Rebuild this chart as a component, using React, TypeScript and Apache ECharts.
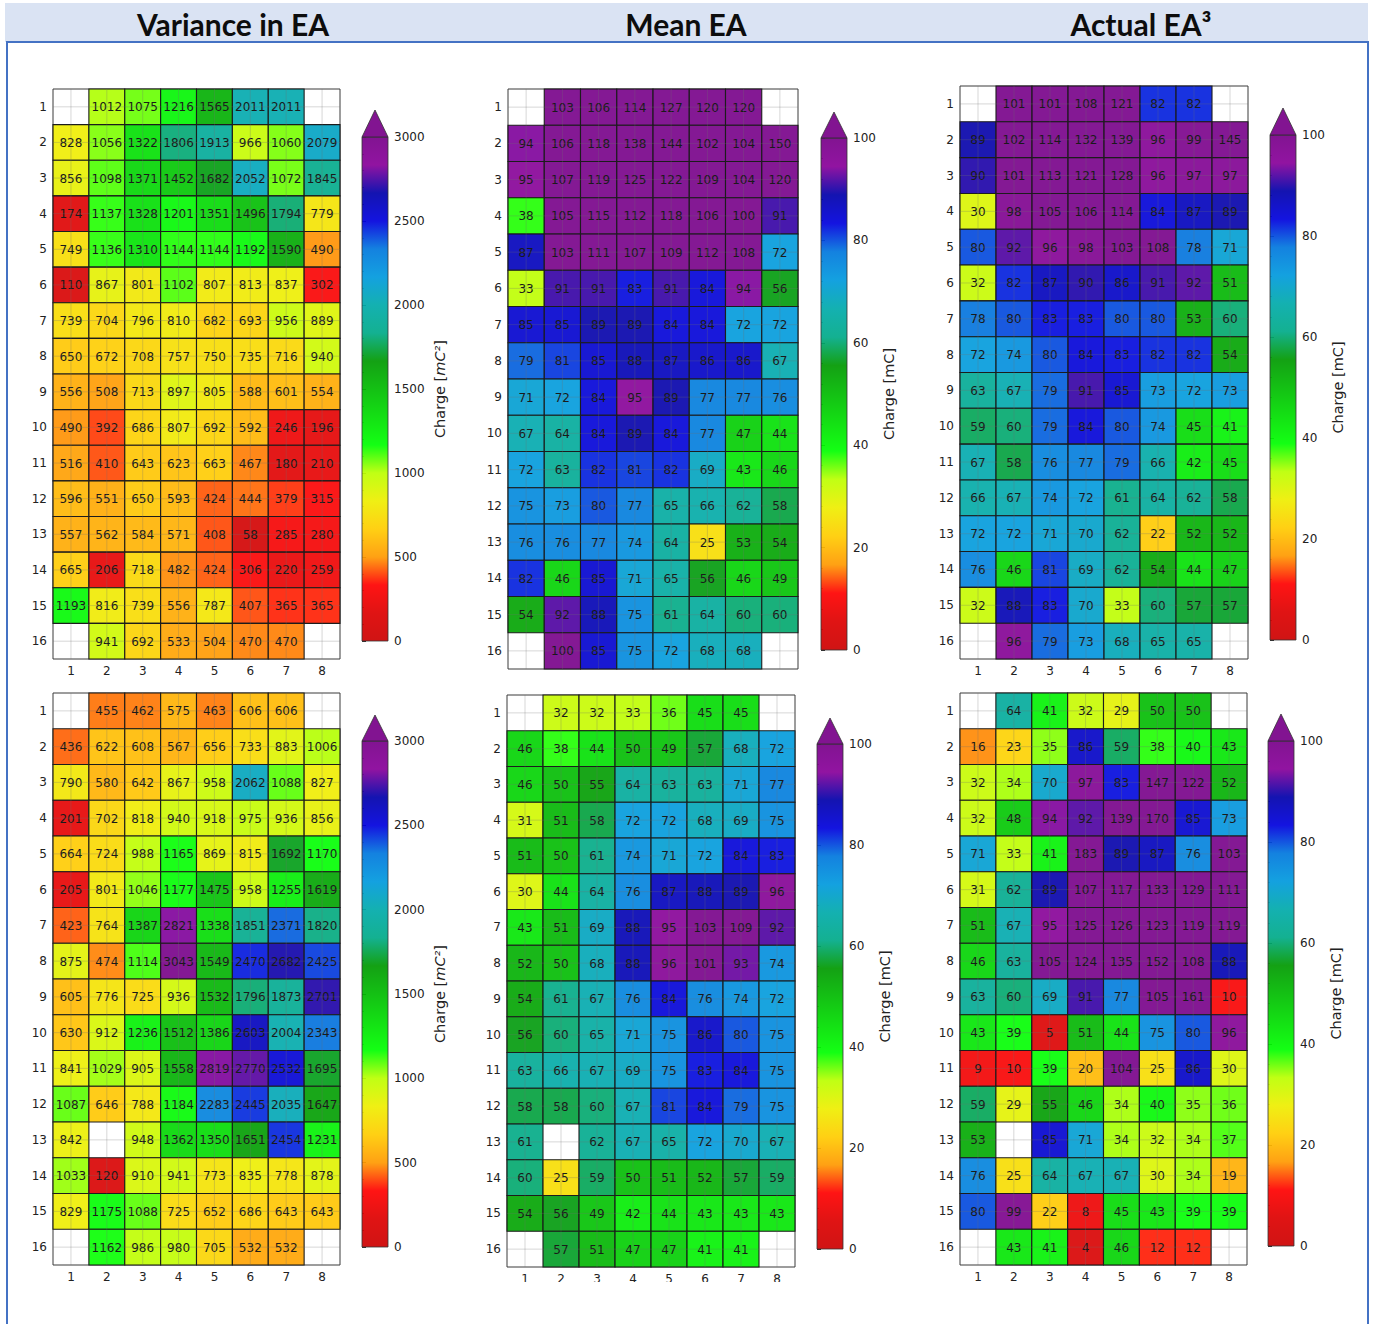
import React, { useEffect, useRef } from 'react';
import * as echarts from 'echarts';

const rowLabels = ['1','2','3','4','5','6','7','8','9','10','11','12','13','14','15','16'];
const colLabels = ['1','2','3','4','5','6','7','8'];

type Grid = (number | null)[][];

const varianceTop: Grid = [
  [null, 1012, 1075, 1216, 1565, 2011, 2011, null],
  [828, 1056, 1322, 1806, 1913, 966, 1060, 2079],
  [856, 1098, 1371, 1452, 1682, 2052, 1072, 1845],
  [174, 1137, 1328, 1201, 1351, 1496, 1794, 779],
  [749, 1136, 1310, 1144, 1144, 1192, 1590, 490],
  [110, 867, 801, 1102, 807, 813, 837, 302],
  [739, 704, 796, 810, 682, 693, 956, 889],
  [650, 672, 708, 757, 750, 735, 716, 940],
  [556, 508, 713, 897, 805, 588, 601, 554],
  [490, 392, 686, 807, 692, 592, 246, 196],
  [516, 410, 643, 623, 663, 467, 180, 210],
  [596, 551, 650, 593, 424, 444, 379, 315],
  [557, 562, 584, 571, 408, 58, 285, 280],
  [665, 206, 718, 482, 424, 306, 220, 259],
  [1193, 816, 739, 556, 787, 407, 365, 365],
  [null, 941, 692, 533, 504, 470, 470, null],
];

const meanTop: Grid = [
  [null, 103, 106, 114, 127, 120, 120, null],
  [94, 106, 118, 138, 144, 102, 104, 150],
  [95, 107, 119, 125, 122, 109, 104, 120],
  [38, 105, 115, 112, 118, 106, 100, 91],
  [87, 103, 111, 107, 109, 112, 108, 72],
  [33, 91, 91, 83, 91, 84, 94, 56],
  [85, 85, 89, 89, 84, 84, 72, 72],
  [79, 81, 85, 88, 87, 86, 86, 67],
  [71, 72, 84, 95, 89, 77, 77, 76],
  [67, 64, 84, 89, 84, 77, 47, 44],
  [72, 63, 82, 81, 82, 69, 43, 46],
  [75, 73, 80, 77, 65, 66, 62, 58],
  [76, 76, 77, 74, 64, 25, 53, 54],
  [82, 46, 85, 71, 65, 56, 46, 49],
  [54, 92, 88, 75, 61, 64, 60, 60],
  [null, 100, 85, 75, 72, 68, 68, null],
];

const actualTop: Grid = [
  [null, 101, 101, 108, 121, 82, 82, null],
  [89, 102, 114, 132, 139, 96, 99, 145],
  [90, 101, 113, 121, 128, 96, 97, 97],
  [30, 98, 105, 106, 114, 84, 87, 89],
  [80, 92, 96, 98, 103, 108, 78, 71],
  [32, 82, 87, 90, 86, 91, 92, 51],
  [78, 80, 83, 83, 80, 80, 53, 60],
  [72, 74, 80, 84, 83, 82, 82, 54],
  [63, 67, 79, 91, 85, 73, 72, 73],
  [59, 60, 79, 84, 80, 74, 45, 41],
  [67, 58, 76, 77, 79, 66, 42, 45],
  [66, 67, 74, 72, 61, 64, 62, 58],
  [72, 72, 71, 70, 62, 22, 52, 52],
  [76, 46, 81, 69, 62, 54, 44, 47],
  [32, 88, 83, 70, 33, 60, 57, 57],
  [null, 96, 79, 73, 68, 65, 65, null],
];

const varianceBottom: Grid = [
  [null, 455, 462, 575, 463, 606, 606, null],
  [436, 622, 608, 567, 656, 733, 883, 1006],
  [790, 580, 642, 867, 958, 2062, 1088, 827],
  [201, 702, 818, 940, 918, 975, 936, 856],
  [664, 724, 988, 1165, 869, 815, 1692, 1170],
  [205, 801, 1046, 1177, 1475, 958, 1255, 1619],
  [423, 764, 1387, 2821, 1338, 1851, 2371, 1820],
  [875, 474, 1114, 3043, 1549, 2470, 2682, 2425],
  [605, 776, 725, 936, 1532, 1796, 1873, 2701],
  [630, 912, 1236, 1512, 1386, 2603, 2004, 2343],
  [841, 1029, 905, 1558, 2819, 2770, 2532, 1695],
  [1087, 646, 788, 1184, 2283, 2445, 2035, 1647],
  [842, null, 948, 1362, 1350, 1651, 2454, 1231],
  [1033, 120, 910, 941, 773, 835, 778, 878],
  [829, 1175, 1088, 725, 652, 686, 643, 643],
  [null, 1162, 986, 980, 705, 532, 532, null],
];

const meanBottom: Grid = [
  [null, 32, 32, 33, 36, 45, 45, null],
  [46, 38, 44, 50, 49, 57, 68, 72],
  [46, 50, 55, 64, 63, 63, 71, 77],
  [31, 51, 58, 72, 72, 68, 69, 75],
  [51, 50, 61, 74, 71, 72, 84, 83],
  [30, 44, 64, 76, 87, 88, 89, 96],
  [43, 51, 69, 88, 95, 103, 109, 92],
  [52, 50, 68, 88, 96, 101, 93, 74],
  [54, 61, 67, 76, 84, 76, 74, 72],
  [56, 60, 65, 71, 75, 86, 80, 75],
  [63, 66, 67, 69, 75, 83, 84, 75],
  [58, 58, 60, 67, 81, 84, 79, 75],
  [61, null, 62, 67, 65, 72, 70, 67],
  [60, 25, 59, 50, 51, 52, 57, 59],
  [54, 56, 49, 42, 44, 43, 43, 43],
  [null, 57, 51, 47, 47, 41, 41, null],
];

const actualBottom: Grid = [
  [null, 64, 41, 32, 29, 50, 50, null],
  [16, 23, 35, 86, 59, 38, 40, 43],
  [32, 34, 70, 97, 83, 147, 122, 52],
  [32, 48, 94, 92, 139, 170, 85, 73],
  [71, 33, 41, 183, 89, 87, 76, 103],
  [31, 62, 89, 107, 117, 133, 129, 111],
  [51, 67, 95, 125, 126, 123, 119, 119],
  [46, 63, 105, 124, 135, 152, 108, 88],
  [63, 60, 69, 91, 77, 105, 161, 10],
  [43, 39, 5, 51, 44, 75, 80, 96],
  [9, 10, 39, 20, 104, 25, 86, 30],
  [59, 29, 55, 46, 34, 40, 35, 36],
  [53, null, 85, 71, 34, 32, 34, 37],
  [76, 25, 64, 67, 67, 30, 34, 19],
  [80, 99, 22, 8, 45, 43, 39, 39],
  [null, 43, 41, 4, 46, 12, 12, null],
];

const columnTitles = ['Variance in EA', 'Mean EA', 'Actual EA³'];
const varianceScale = { min: 0, max: 3000, interval: 500 };
const chargeScale = { min: 0, max: 100, interval: 20 };

// nipy_spectral reversed (trimmed), low -> high
const paletteLowToHigh = [
  '#cc0000', '#dd0000', '#ff0000', '#ff9900', '#ffcc00', '#eeee00', '#bbff00',
  '#00ff00', '#00dd00', '#00bb00', '#009900', '#00aa88', '#00aaaa', '#0099dd',
  '#0077dd', '#0000dd', '#0000aa', '#880099', '#770088',
];

interface Panel {
  data: Grid;
  scale: { min: number; max: number; interval: number };
  name: string;
  nameGap: number;
  grid: { left: number; top: number; width: number; height: number };
  cbar: { left: number; top: number; height: number; tip: number };
  hideXLabels?: boolean;
}

const panels: Panel[] = [
  { data: varianceTop, scale: varianceScale, name: 'Charge [{i|mC²}]', nameGap: 44,
    grid: { left: 53, top: 89, width: 287, height: 570 }, cbar: { left: 362, top: 137, height: 504, tip: 110 } },
  { data: meanTop, scale: chargeScale, name: 'Charge [mC]', nameGap: 34,
    grid: { left: 508, top: 89, width: 290, height: 580 }, cbar: { left: 821, top: 138, height: 512, tip: 112 }, hideXLabels: true },
  { data: actualTop, scale: chargeScale, name: 'Charge [mC]', nameGap: 34,
    grid: { left: 960, top: 86, width: 288, height: 573 }, cbar: { left: 1270, top: 135, height: 505, tip: 108 } },
  { data: varianceBottom, scale: varianceScale, name: 'Charge [{i|mC²}]', nameGap: 44,
    grid: { left: 53, top: 693, width: 287, height: 572 }, cbar: { left: 362, top: 741, height: 506, tip: 715 } },
  { data: meanBottom, scale: chargeScale, name: 'Charge [mC]', nameGap: 34,
    grid: { left: 507, top: 695, width: 288, height: 572 }, cbar: { left: 817, top: 744, height: 505, tip: 718 } },
  { data: actualBottom, scale: chargeScale, name: 'Charge [mC]', nameGap: 34,
    grid: { left: 960, top: 693, width: 287, height: 572 }, cbar: { left: 1268, top: 741, height: 505, tip: 714 } },
];

const CB_W = 26;
const FONT = 'DejaVu Sans';

function buildOption() {
  const grids: any[] = [];
  const xAxes: any[] = [];
  const yAxes: any[] = [];
  const series: any[] = [];
  const visualMaps: any[] = [];
  const graphics: any[] = [];

  // header band + frame
  graphics.push({ type: 'rect', shape: { x: 5, y: 3, width: 1363, height: 39 }, style: { fill: '#dae3f3' }, z: 0 });
  graphics.push({ type: 'line', shape: { x1: 6, y1: 42, x2: 1369, y2: 42 }, style: { stroke: '#4472c4', lineWidth: 2 } });
  graphics.push({ type: 'line', shape: { x1: 7, y1: 42, x2: 7, y2: 1324 }, style: { stroke: '#4472c4', lineWidth: 2 } });
  graphics.push({ type: 'line', shape: { x1: 1368, y1: 42, x2: 1368, y2: 1324 }, style: { stroke: '#4472c4', lineWidth: 2 } });
  const titleX = [233, 686, 1141];
  columnTitles.forEach((t, i) => {
    graphics.push({
      type: 'text', x: titleX[i], y: 24,
      style: { text: t, fill: '#0d0d0d', font: 'bold 30px Lato', align: 'center', verticalAlign: 'middle' },
    });
  });

  panels.forEach((p, k) => {
    const gi = grids.length;
    grids.push({ ...p.grid, show: true, borderColor: '#3a3a3a', borderWidth: 1, backgroundColor: 'transparent' });
    const xi = xAxes.length;
    xAxes.push({
      type: 'category', gridIndex: gi, data: colLabels, position: 'bottom',
      axisLine: { show: false }, splitLine: { show: false },
      axisTick: { alignWithLabel: true, length: 4, lineStyle: { color: '#333' } },
      axisLabel: { show: !p.hideXLabels, fontSize: 12, fontFamily: FONT, color: '#222', margin: 6 },
    });
    xAxes.push({
      type: 'category', gridIndex: gi, data: colLabels, position: 'bottom',
      axisLine: { show: false }, splitLine: { show: false },
      axisTick: { alignWithLabel: false, length: 2, lineStyle: { color: '#555' } },
      axisLabel: { show: false },
    });
    const yi = yAxes.length;
    yAxes.push({
      type: 'category', gridIndex: gi, data: rowLabels, inverse: true, position: 'left',
      axisLine: { show: false }, splitLine: { show: false },
      axisTick: { alignWithLabel: true, length: 4, lineStyle: { color: '#333' } },
      axisLabel: { fontSize: 12, fontFamily: FONT, color: '#222', margin: 6 },
    });
    yAxes.push({
      type: 'category', gridIndex: gi, data: rowLabels, inverse: true, position: 'left',
      axisLine: { show: false }, splitLine: { show: false },
      axisTick: { alignWithLabel: false, length: 2, lineStyle: { color: '#555' } },
      axisLabel: { show: false },
    });

    const cells: any[] = [];
    const allCells: any[] = [];
    p.data.forEach((row, r) => {
      row.forEach((v, c) => {
        allCells.push([c, r]);
        if (v !== null) cells.push([c, r, v]);
      });
    });

    const heatIndex = series.length;
    series.push({
      type: 'custom', name: 'heat' + k, xAxisIndex: xi, yAxisIndex: yi,
      coordinateSystem: 'cartesian2d', encode: { x: 0, y: 1 }, data: cells, silent: true, z: 2,
      renderItem: (_params: any, api: any) => {
        const c = api.coord([api.value(0), api.value(1)]);
        const s = api.size([1, 1]);
        const v = api.value(2);
        return {
          type: 'group',
          children: [
            {
              type: 'rect',
              shape: { x: c[0] - s[0] / 2, y: c[1] - s[1] / 2, width: s[0], height: s[1] },
              style: { fill: api.visual('color'), fillOpacity: 0.9, stroke: '#1c1c1c', lineWidth: 1.1 },
            },
            {
              type: 'text', x: c[0], y: c[1] + 0.5,
              style: { text: String(v), fill: '#1a1a1a', fontSize: 12, fontFamily: FONT, align: 'center', verticalAlign: 'middle' },
            },
          ],
        };
      },
    });
    series.push({
      type: 'custom', name: 'grid' + k, xAxisIndex: xi, yAxisIndex: yi,
      coordinateSystem: 'cartesian2d', encode: { x: 0, y: 1 }, data: allCells, silent: true, z: 3,
      renderItem: (_params: any, api: any) => {
        const c = api.coord([api.value(0), api.value(1)]);
        const s = api.size([1, 1]);
        return {
          type: 'group',
          children: [
            { type: 'line', shape: { x1: c[0], y1: c[1] - s[1] / 2, x2: c[0], y2: c[1] + s[1] / 2 }, style: { stroke: 'rgba(110,110,110,0.28)', lineWidth: 1 } },
            { type: 'line', shape: { x1: c[0] - s[0] / 2, y1: c[1], x2: c[0] + s[0] / 2, y2: c[1] }, style: { stroke: 'rgba(110,110,110,0.28)', lineWidth: 1 } },
          ],
        };
      },
    });
    visualMaps.push({
      type: 'continuous', show: false, seriesIndex: heatIndex, dimension: 2,
      min: p.scale.min, max: p.scale.max, inRange: { color: paletteLowToHigh },
    });

    // colorbar axis
    const cg = grids.length;
    grids.push({ left: p.cbar.left, top: p.cbar.top, width: CB_W, height: p.cbar.height, show: false });
    xAxes.push({ type: 'value', gridIndex: cg, min: 0, max: 1, show: false });
    yAxes.push({
      type: 'value', gridIndex: cg, min: p.scale.min, max: p.scale.max, interval: p.scale.interval,
      position: 'right',
      axisLine: { show: false }, splitLine: { show: false },
      axisTick: { show: true, length: 4, lineStyle: { color: '#333' } },
      minorTick: { show: true, splitNumber: 5, length: 2, lineStyle: { color: '#555' } },
      axisLabel: { fontSize: 12, fontFamily: FONT, color: '#222', margin: 6, formatter: (v: number) => String(v) },
      name: p.name, nameLocation: 'middle', nameRotate: 90, nameGap: p.nameGap,
      nameTextStyle: { fontSize: 14.5, fontFamily: FONT, color: '#222', rich: { i: { fontSize: 14.5, fontFamily: FONT, fontStyle: 'italic', color: '#222' } } },
    });

    const stops = paletteLowToHigh.map((col, i) => ({ offset: i / (paletteLowToHigh.length - 1), color: col }));
    graphics.push({
      type: 'rect', z: 1,
      shape: { x: p.cbar.left, y: p.cbar.top, width: CB_W, height: p.cbar.height },
      style: { fill: new echarts.graphic.LinearGradient(0, 1, 0, 0, stops), fillOpacity: 0.92, stroke: '#333', lineWidth: 0.8 },
    });
    graphics.push({
      type: 'polygon', z: 1,
      shape: { points: [[p.cbar.left, p.cbar.top], [p.cbar.left + CB_W, p.cbar.top], [p.cbar.left + CB_W / 2, p.cbar.tip]] },
      style: { fill: '#770088', fillOpacity: 0.92, stroke: '#333', lineWidth: 0.8 },
    });
  });

  // crop of the lower-middle tick labels, as in the source picture
  graphics.push({ type: 'rect', z: 100, shape: { x: 495, y: 1282, width: 310, height: 20 }, style: { fill: '#fff' } });

  return {
    animation: false,
    backgroundColor: '#fff',
    grid: grids,
    xAxis: xAxes,
    yAxis: yAxes,
    visualMap: visualMaps,
    series,
    graphic: { elements: graphics },
  };
}

export default function App() {
  const ref = useRef<HTMLDivElement>(null);
  useEffect(() => {
    if (!ref.current) return;
    const chart = echarts.init(ref.current, undefined, { renderer: 'svg' });
    chart.setOption(buildOption() as any);
    return () => chart.dispose();
  }, []);
  return <div ref={ref} style={{ position: 'fixed', left: 0, top: 0, width: 1374, height: 1324, background: '#fff' }} />;
}
